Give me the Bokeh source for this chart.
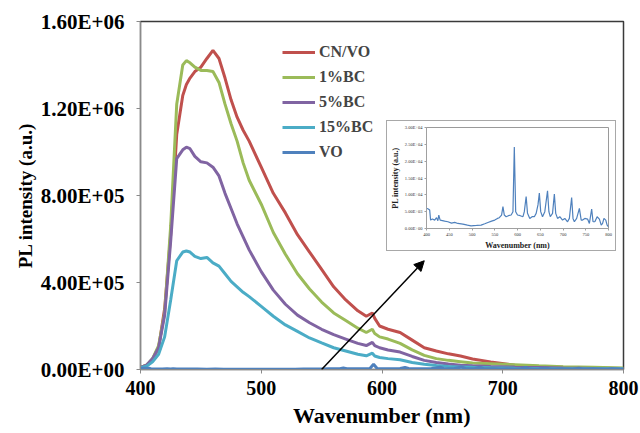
from bokeh.plotting import figure
from bokeh.models import (FixedTicker, Legend, LegendItem, Arrow, NormalHead,
                          Range1d)
from bokeh.embed import file_html
from bokeh.resources import INLINE

# ---------------- data ----------------
wl = [400, 405, 410, 415, 420, 425, 430, 435, 438, 441, 445, 450, 455, 460, 465,
      470, 475, 480, 485, 490, 500, 510, 520, 530, 540, 550, 560, 570, 580, 587,
      592, 594, 598, 605, 615, 625, 635, 645, 655, 665, 675, 690, 710, 730, 750,
      775, 800]

cn_vo = [0.01, 0.02, 0.045, 0.10, 0.28, 0.62, 1.08, 1.26, 1.31, 1.34, 1.37, 1.39,
         1.43, 1.467, 1.43, 1.34, 1.24, 1.16, 1.10, 1.05, 0.93, 0.81, 0.72, 0.62,
         0.54, 0.46, 0.38, 0.32, 0.27, 0.245, 0.26, 0.235, 0.20, 0.185, 0.17,
         0.135, 0.10, 0.085, 0.072, 0.062, 0.048, 0.035, 0.02, 0.014, 0.01,
         0.007, 0.005]
bc1 = [0.01, 0.02, 0.05, 0.11, 0.26, 0.66, 1.22, 1.40, 1.42, 1.41, 1.39, 1.375,
       1.375, 1.37, 1.32, 1.22, 1.13, 1.05, 0.95, 0.87, 0.76, 0.63, 0.53, 0.44,
       0.37, 0.31, 0.26, 0.225, 0.19, 0.17, 0.185, 0.165, 0.15, 0.14, 0.12,
       0.09, 0.065, 0.05, 0.042, 0.036, 0.03, 0.027, 0.022, 0.017, 0.013, 0.01,
       0.007]
bc5 = [0.01, 0.02, 0.05, 0.10, 0.25, 0.59, 0.97, 1.01, 1.022, 1.015, 0.98,
       0.955, 0.95, 0.93, 0.89, 0.81, 0.74, 0.67, 0.61, 0.55, 0.45, 0.365, 0.30,
       0.25, 0.215, 0.185, 0.16, 0.14, 0.12, 0.11, 0.125, 0.11, 0.10, 0.09,
       0.08, 0.06, 0.042, 0.032, 0.025, 0.02, 0.017, 0.014, 0.011, 0.009, 0.007,
       0.005, 0.004]
bc15 = [0.008, 0.015, 0.035, 0.07, 0.15, 0.32, 0.50, 0.54, 0.545, 0.54, 0.52,
        0.51, 0.515, 0.49, 0.475, 0.44, 0.405, 0.38, 0.355, 0.335, 0.29, 0.245,
        0.205, 0.175, 0.145, 0.122, 0.10, 0.085, 0.07, 0.063, 0.075, 0.062,
        0.055, 0.05, 0.045, 0.032, 0.024, 0.018, 0.014, 0.012, 0.01, 0.008,
        0.006, 0.005, 0.004, 0.003, 0.003]
series_scale = 1e6

vo_wl = [400, 404, 407, 409, 413, 418, 422, 425, 427, 430, 440, 447, 455, 462,
         469, 480, 490, 498, 510, 520, 528, 535, 543, 550, 556, 560, 565, 568,
         571, 575, 580, 586, 590, 593, 596, 600, 606, 612, 615, 619, 622, 627,
         632, 637, 641, 645, 648, 651, 655, 660, 666, 669, 672, 677, 681, 684,
         688, 693, 699, 704, 710, 714, 719, 722, 725, 730, 736, 740, 743, 748,
         754, 758, 763, 766, 770, 775, 780, 784, 787, 790, 794, 797, 800]
vo = [6.0, 5.8, 5.5, 2.5, 2.8, 2.5, 3.2, 2.3, 4.0, 2.5, 2.2, 2.0, 1.6, 1.8, 1.5,
      1.3, 1.0, 0.8, 0.9, 1.0, 1.4, 1.8, 2.2, 2.5, 3.0, 3.2, 4.0, 6.5, 4.0, 3.5,
      3.8, 4.0, 5.0, 24.2, 5.0, 4.0, 3.8, 3.5, 5.0, 9.5, 4.5, 3.0, 3.5, 3.5, 4.5,
      7.0, 10.5, 5.0, 3.5, 5.0, 11.2, 5.0, 3.5, 4.5, 10.2, 4.5, 3.0, 3.5, 2.5,
      3.0, 2.0, 3.0, 9.2, 3.0, 2.0, 3.0, 6.0, 2.5, 2.5, 3.0, 2.8, 1.5, 5.8, 2.0,
      2.0, 3.5, 2.8, 1.0, 1.5, 3.0, 2.5, 1.0, 0.5]
vo_scale = 1e3

labels = ["CN/VO", "1%BC", "5%BC", "15%BC", "VO"]
colors = ["#C0504D", "#9BBB59", "#8064A2", "#4BACC6", "#4F81BD"]

y_ticks = [0, 400000, 800000, 1200000, 1600000]
y_tick_labels = ["0.00E+00", "4.00E+05", "8.00E+05", "1.20E+06", "1.60E+06"]
x_ticks = [400, 500, 600, 700, 800]

inset_x_ticks = [400, 450, 500, 550, 600, 650, 700, 750, 800]
inset_y_ticks = [0, 5000, 10000, 15000, 20000, 25000, 30000]
inset_y_tick_labels = ["0.00E+00", "5.00E+03", "1.00E+04", "1.50E+04",
                       "2.00E+04", "2.50E+04", "3.00E+04"]

arrow_start = (550, 0)
arrow_end = (635, 500000)

FONT = "Liberation Serif"

# ---------------- main figure ----------------
p = figure(width=640, height=433, output_backend="svg", toolbar_location=None,
           x_range=Range1d(400, 800), y_range=Range1d(0, 1600000),
           min_border_left=140, min_border_right=17, min_border_top=21,
           min_border_bottom=64)
p.xgrid.visible = False
p.ygrid.visible = False
p.outline_line_color = "#3a3a3a"
p.outline_line_width = 1.5
p.background_fill_color = "white"
p.border_fill_color = "white"

renderers = []
for vals, col in zip([cn_vo, bc1, bc5, bc15], colors[:4]):
    r = p.line(wl, [v * series_scale for v in vals], line_color=col, line_width=3)
    renderers.append(r)
r_vo = p.line(vo_wl, [v * vo_scale for v in vo], line_color=colors[4], line_width=3)
renderers.append(r_vo)

p.xaxis.ticker = FixedTicker(ticks=x_ticks)
p.yaxis.ticker = FixedTicker(ticks=y_ticks)
p.yaxis.major_label_overrides = {t: s for t, s in zip(y_ticks, y_tick_labels)}
for ax in (p.xaxis[0], p.yaxis[0]):
    ax.axis_line_color = "#8a8a8a"
    ax.axis_line_width = 1
    ax.major_tick_line_color = "#8a8a8a"
    ax.major_tick_in = 0
    ax.major_tick_out = 4
    ax.minor_tick_line_color = None
    ax.major_label_text_font = FONT
    ax.major_label_text_font_style = "bold"
    ax.major_label_text_color = "black"
    ax.axis_label_text_font = FONT
    ax.axis_label_text_font_style = "bold"
    ax.axis_label_text_color = "black"
p.xaxis.major_label_text_font_size = "20px"
p.yaxis.major_label_text_font_size = "21px"
p.xaxis.axis_label = "Wavenumber (nm)"
p.yaxis.axis_label = "PL intensity (a.u.)"
p.xaxis.axis_label_text_font_size = "22px"
p.yaxis.axis_label_text_font_size = "19px"
p.xaxis.major_label_standoff = 7
p.yaxis.major_label_standoff = 12
p.xaxis.axis_label_standoff = 5
p.yaxis.axis_label_standoff = 2

legend = Legend(items=[LegendItem(label=l, renderers=[r]) for l, r in zip(labels, renderers)],
                location=(142, 207), border_line_color=None,
                background_fill_alpha=0, glyph_width=33, glyph_height=20,
                label_height=20, spacing=5, padding=0, margin=0,
                label_standoff=4, label_text_font=FONT,
                label_text_font_style="bold", label_text_font_size="16px")
p.add_layout(legend)

p.add_layout(Arrow(end=NormalHead(size=10, fill_color="black", line_color="black"),
                   x_start=arrow_start[0], y_start=arrow_start[1],
                   x_end=arrow_end[0], y_end=arrow_end[1],
                   line_color="black", line_width=1.5))

# ---------------- inset figure ----------------
q = figure(width=230, height=131, output_backend="svg", toolbar_location=None,
           x_range=Range1d(400, 800), y_range=Range1d(0, 30000),
           min_border_left=39, min_border_right=9, min_border_top=6,
           min_border_bottom=24,
           styles={"position": "absolute", "left": "386px", "top": "120px",
                   "border": "1px solid #a8a8a8", "background": "white"})
q.xgrid.visible = False
q.ygrid.visible = False
q.outline_line_color = "#9a9a9a"
q.outline_line_width = 1
q.line(vo_wl, [v * vo_scale for v in vo], line_color=colors[4], line_width=1.2)
q.xaxis.ticker = FixedTicker(ticks=inset_x_ticks)
q.yaxis.ticker = FixedTicker(ticks=inset_y_ticks)
q.yaxis.major_label_overrides = {t: s for t, s in zip(inset_y_ticks, inset_y_tick_labels)}
for ax in (q.xaxis[0], q.yaxis[0]):
    ax.axis_line_color = "#a0a0a0"
    ax.major_tick_line_color = "#a0a0a0"
    ax.major_tick_in = 0
    ax.major_tick_out = 2
    ax.minor_tick_line_color = None
    ax.major_label_text_font = FONT
    ax.major_label_text_font_size = "4.5px"
    ax.major_label_text_color = "#333333"
    ax.major_label_standoff = 2
    ax.axis_label_text_font = FONT
    ax.axis_label_text_font_style = "bold"
    ax.axis_label_text_font_size = "8px"
    ax.axis_label_text_color = "#222222"
    ax.axis_label_standoff = 2
q.xaxis.axis_label = "Wavenumber (nm)"
q.yaxis.axis_label = "PL intensity (a.u.)"

open("out.html", "w").write(file_html([p, q], INLINE))
